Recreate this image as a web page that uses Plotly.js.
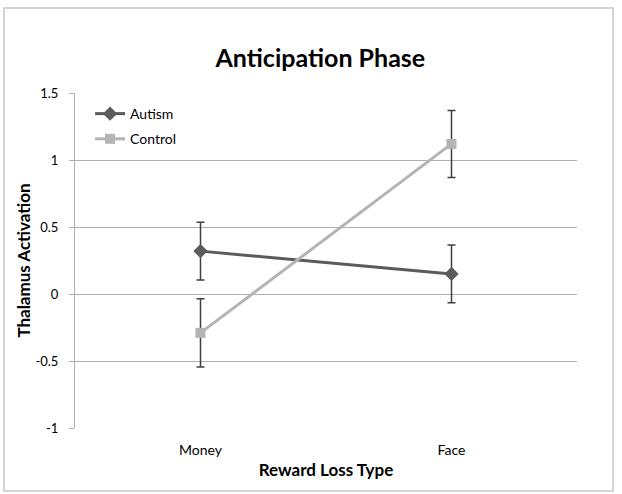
<!DOCTYPE html>
<html>
<head>
<meta charset="utf-8">
<script src="https://cdn.plot.ly/plotly-3.0.1.min.js"></script>
<style>
html,body{margin:0;padding:0;background:#fff;}
#chart{width:622px;height:494px;}
</style>
</head>
<body>
<div id="chart"></div>
<script>
var categories = ["Money", "Face"];
var autismValues = [0.32, 0.15];
var autismErrors = [0.215, 0.215];
var controlValues = [-0.29, 1.12];
var controlErrors = [0.255, 0.25];
var yTickValues = [-1, -0.5, 0, 0.5, 1, 1.5];
var yTickLabels = ["-1", "-0.5", "0", "0.5", "1", "1.5"];

var font = "Lato, 'Open Sans', sans-serif";

var traces = [
  {
    x: categories, y: autismValues, name: "Autism", type: "scatter", mode: "lines+markers",
    legendgroup: "a",
    line: {color: "#5b5b5b", width: 3},
    marker: {symbol: "diamond", size: 11, color: "#5b5b5b"},
    error_y: {type: "data", array: autismErrors, visible: true, color: "#404040", thickness: 1.5, width: 4}
  },
  {
    x: categories, y: controlValues, name: "Control", type: "scatter", mode: "lines+markers",
    legendgroup: "c",
    line: {color: "#b4b4b4", width: 3},
    marker: {symbol: "square", size: 10, color: "#b4b4b4"},
    error_y: {type: "data", array: controlErrors, visible: true, color: "#404040", thickness: 1.5, width: 4}
  }
];

var layout = {
  width: 622, height: 494,
  margin: {l: 75, r: 45, t: 93, b: 66},
  paper_bgcolor: "#ffffff", plot_bgcolor: "#ffffff",
  font: {family: font, size: 13, color: "#000"},
  title: {text: "<b>Anticipation Phase</b>", font: {family: font, size: 25, color: "#000"},
          x: 0.515, xanchor: "center", y: 0.882, yanchor: "middle"},
  showlegend: true,
  legend: {x: 0.03, y: 0.985, xanchor: "left", yanchor: "top", bgcolor: "rgba(0,0,0,0)",
           font: {family: font, size: 14, color: "#000"}, traceorder: "grouped", tracegroupgap: 4, itemwidth: 30},
  xaxis: {
    type: "category", range: [-0.5, 1.5], showgrid: false, zeroline: false,
    showline: false, ticks: "", tickfont: {family: font, size: 14, color: "#000"},
    ticklabelstandoff: 12,
    title: {text: "<b>Reward Loss Type</b>", font: {family: font, size: 17, color: "#000"}, standoff: 7},
    fixedrange: true
  },
  yaxis: {
    range: [-1, 1.5], tickvals: yTickValues, ticktext: yTickLabels,
    showgrid: true, gridcolor: "#b0b0b0", gridwidth: 1, zeroline: false,
    showline: true, linecolor: "#b0b0b0", linewidth: 1,
    ticks: "outside", ticklen: 5, tickcolor: "#b0b0b0",
    tickfont: {family: font, size: 13, color: "#000"},
    ticklabelstandoff: 8,
    title: {text: "<b>Thalamus Activation</b>", font: {family: font, size: 17, color: "#000"}, standoff: 0},
    fixedrange: true
  },
  shapes: [
    {type: "rect", xref: "paper", yref: "paper", x0: -0.1414, x1: 1.0717, y0: -0.188, y1: 1.2537,
     line: {color: "#c8c8c8", width: 1.5}, fillcolor: "rgba(0,0,0,0)", layer: "below"}
  ]
};

Plotly.newPlot("chart", traces, layout, {displayModeBar: false, staticPlot: true});
</script>
</body>
</html>
